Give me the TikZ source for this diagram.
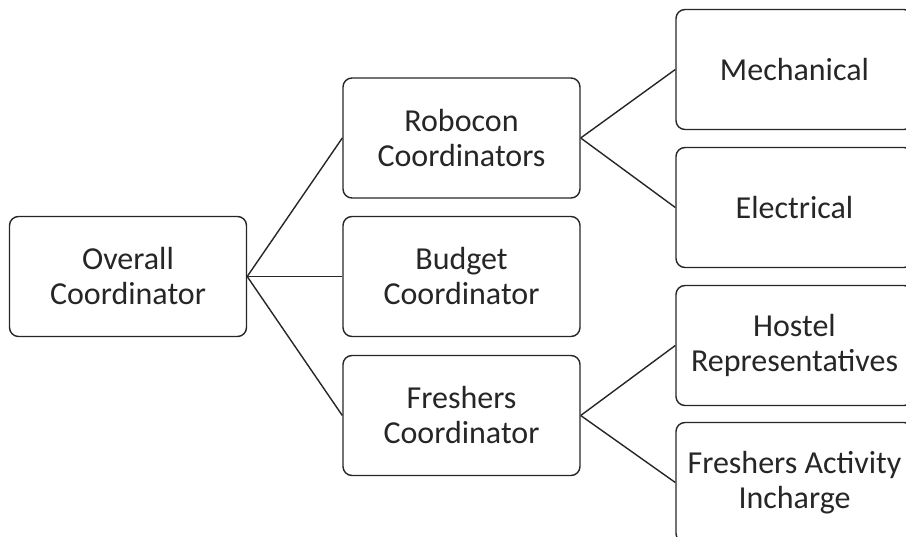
\documentclass[tikz,border=0pt]{standalone}
\usepackage{fontspec}
\setmainfont{Carlito}
\usepackage{tikz}

\begin{document}
\begin{tikzpicture}[x=1pt,y=-1pt,
		box/.style={draw=black!85,line width=1.4pt,rounded corners=9pt,
			minimum width=237pt,minimum height=120pt,align=center,
			text=black!85,font=\fontsize{32}{35}\selectfont},
		link/.style={draw=black!85,line width=1.4pt}]
		\useasboundingbox (0,0) rectangle (906,537);
		\node[box] (overall) at (128,276.5) {Overall\\Coordinator};
		\node[box] (robocon) at (461.5,138) {Robocon\\Coordinators};
		\node[box] (budget) at (461.5,276.5) {Budget\\Coordinator};
		\node[box] (freshers) at (461.5,415.5) {Freshers\\Coordinator};
		\node[box] (mech) at (794.5,69.5) {Mechanical};
		\node[box] (elec) at (794.5,207.5) {Electrical};
		\node[box] (hostel) at (794.5,345.5) {Hostel\\Representatives};
		\node[box] (activity) at (794.5,482.5) {Freshers Activity\\Incharge};
		\foreach \kid in {robocon,budget,freshers}
		\draw[link] (overall.east) -- (\kid.west);
		\foreach \kid in {mech,elec}
		\draw[link] (robocon.east) -- (\kid.west);
		\foreach \kid in {hostel,activity}
		\draw[link] (freshers.east) -- (\kid.west);
	\end{tikzpicture}
\end{document}
